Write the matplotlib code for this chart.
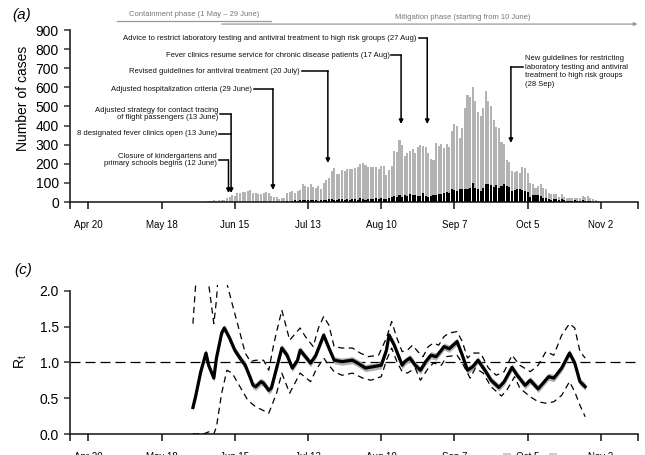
import numpy as np
import pandas as pd
import matplotlib
matplotlib.use("Agg")
import matplotlib.pyplot as plt
import matplotlib.dates as mdates
from matplotlib.patches import Rectangle

plt.rcParams['font.family'] = ['Liberation Sans', 'DejaVu Sans']
plt.rcParams['mathtext.fontset'] = 'custom'
plt.rcParams['mathtext.rm'] = 'Liberation Sans'

# ---------------- daily case counts (1 Jun - 1 Nov 2009) ----------------
days = pd.date_range('2009-06-01', '2009-11-01', freq='D')

total_cases = (
    # June
    [0, 0, 0, 3, 5, 4, 8, 6, 10, 8, 12, 22, 28, 35, 32, 48, 45, 52, 50, 58,
     62, 48, 45, 40, 42, 45, 50, 48, 30, 28]
    # July
    + [25, 18, 20, 22, 45, 50, 55, 48, 60, 65, 92, 85, 80, 92, 78, 75, 84, 66,
       101, 113, 124, 162, 180, 148, 148, 166, 162, 171, 171, 171, 176]
    # August
    + [183, 200, 204, 194, 185, 183, 183, 183, 171, 188, 188, 141, 166, 188,
       267, 262, 323, 297, 241, 257, 265, 276, 258, 287, 300, 293, 288, 258,
       223, 220, 311]
    # September
    + [293, 302, 285, 302, 288, 372, 407, 398, 337, 389, 490, 560, 550, 602,
       530, 470, 450, 490, 580, 530, 500, 430, 395, 385, 315, 305, 218, 210,
       162, 157]
    # October
    + [162, 154, 183, 180, 150, 101, 96, 75, 84, 92, 75, 66, 49, 40, 44, 40,
       26, 40, 26, 19, 19, 23, 23, 19, 19, 31, 26, 31, 23, 14, 9]
    # November
    + [5]
)

subset_cases = (
    [0] * 30
    + [0, 0, 0, 2, 3, 2, 5, 8, 6, 10, 8, 12, 10, 10, 8, 12, 6, 10, 12, 8, 14,
       16, 12, 10, 15, 14, 12, 16, 10, 14, 18]
    + [12, 20, 16, 12, 14, 18, 16, 22, 15, 20, 18, 14, 22, 26, 30, 28, 35, 26,
       38, 32, 40, 35, 37, 31, 31, 45, 31, 26, 31, 35, 37]
    + [40, 44, 49, 54, 49, 70, 61, 58, 66, 66, 70, 66, 75, 101, 72, 66, 58, 72,
       96, 92, 89, 79, 89, 75, 84, 96, 84, 79, 58, 63]
    + [66, 66, 61, 58, 54, 26, 37, 37, 37, 31, 23, 19, 14, 9, 14, 14, 9, 14, 9,
       7, 6, 5, 8, 5, 6, 9, 5, 4, 3, 2, 1]
    + [1]
)

# ---------------- effective reproduction number ----------------
rt_dates = ['2009-05-30', '2009-05-31', '2009-06-02', '2009-06-04', '2009-06-05',
            '2009-06-07', '2009-06-08', '2009-06-10', '2009-06-11', '2009-06-13',
            '2009-06-15', '2009-06-17', '2009-06-19', '2009-06-21', '2009-06-22',
            '2009-06-23', '2009-06-25', '2009-06-26', '2009-06-28', '2009-06-29',
            '2009-07-01', '2009-07-03', '2009-07-05', '2009-07-07', '2009-07-09',
            '2009-07-10', '2009-07-12', '2009-07-14', '2009-07-16', '2009-07-19',
            '2009-07-21', '2009-07-23', '2009-07-26', '2009-07-30', '2009-08-01',
            '2009-08-04', '2009-08-07', '2009-08-10', '2009-08-12', '2009-08-13',
            '2009-08-15', '2009-08-18', '2009-08-19', '2009-08-21', '2009-08-23',
            '2009-08-25', '2009-08-27', '2009-08-29', '2009-08-31', '2009-09-02',
            '2009-09-03', '2009-09-05', '2009-09-08', '2009-09-10', '2009-09-12',
            '2009-09-14', '2009-09-16', '2009-09-19', '2009-09-21', '2009-09-24',
            '2009-09-26', '2009-09-29', '2009-10-01', '2009-10-04', '2009-10-06',
            '2009-10-09', '2009-10-13', '2009-10-15', '2009-10-18', '2009-10-21',
            '2009-10-23', '2009-10-25', '2009-10-27']
rt_mean = [0.37, 0.52, 0.87, 1.13, 0.96, 0.78, 1.06, 1.41, 1.48, 1.34,
           1.17, 1.06, 0.96, 0.78, 0.68, 0.66, 0.73, 0.71, 0.61, 0.64,
           0.92, 1.20, 1.10, 0.92, 1.03, 1.17, 1.08, 0.99, 1.10, 1.38,
           1.20, 1.03, 1.01, 1.03, 0.99, 0.92, 0.94, 0.96, 1.17, 1.38,
           1.24, 0.96, 1.01, 1.06, 0.96, 0.89, 1.01, 1.10, 1.08, 1.17,
           1.22, 1.19, 1.29, 1.10, 0.89, 0.94, 1.03, 0.87, 0.75, 0.65,
           0.73, 0.93, 0.82, 0.68, 0.75, 0.63, 0.80, 0.78, 0.92, 1.13,
           0.99, 0.73, 0.66]

upper_dates = ['2009-05-30', '2009-05-31', '2009-06-01', '2009-06-03', '2009-06-05',
               '2009-06-07', '2009-06-08', '2009-06-09', '2009-06-11', '2009-06-12',
               '2009-06-14', '2009-06-17', '2009-06-19', '2009-06-21', '2009-06-23',
               '2009-06-26', '2009-06-28', '2009-06-30', '2009-07-03', '2009-07-06',
               '2009-07-10', '2009-07-12', '2009-07-15', '2009-07-17', '2009-07-19',
               '2009-07-21', '2009-07-23', '2009-07-26', '2009-07-30', '2009-08-02',
               '2009-08-05', '2009-08-09', '2009-08-12', '2009-08-14', '2009-08-16',
               '2009-08-18', '2009-08-20', '2009-08-22', '2009-08-24', '2009-08-26',
               '2009-08-28', '2009-08-30', '2009-09-01', '2009-09-03', '2009-09-05',
               '2009-09-08', '2009-09-10', '2009-09-12', '2009-09-14', '2009-09-17',
               '2009-09-20', '2009-09-23', '2009-09-26', '2009-09-29', '2009-10-02',
               '2009-10-06', '2009-10-09', '2009-10-12', '2009-10-15', '2009-10-18',
               '2009-10-21', '2009-10-23', '2009-10-25', '2009-10-27']
upper_vals = [1.54, 2.06, 2.5, 2.6, 2.1, 1.54, 1.87, 2.4, 2.6, 2.1,
              1.82, 1.41, 1.13, 1.01, 1.03, 1.03, 0.89, 1.27, 1.73, 1.31,
              1.48, 1.36, 1.22, 1.48, 1.64, 1.52, 1.22, 1.20, 1.20, 1.13,
              1.08, 1.10, 1.34, 1.57, 1.34, 1.15, 1.17, 1.24, 1.15, 1.08,
              1.22, 1.27, 1.24, 1.36, 1.41, 1.43, 1.29, 1.06, 1.13, 1.13,
              0.92, 0.82, 0.87, 1.10, 0.96, 0.87, 0.96, 1.15, 1.10, 1.38,
              1.54, 1.48, 1.15, 1.06]

lower_dates = ['2009-05-30', '2009-06-03', '2009-06-05', '2009-06-07', '2009-06-08',
               '2009-06-10', '2009-06-12', '2009-06-14', '2009-06-17', '2009-06-20',
               '2009-06-23', '2009-06-28', '2009-07-01', '2009-07-03', '2009-07-06',
               '2009-07-10', '2009-07-14', '2009-07-16', '2009-07-19', '2009-07-21',
               '2009-07-23', '2009-07-26', '2009-07-30', '2009-08-03', '2009-08-06',
               '2009-08-10', '2009-08-12', '2009-08-14', '2009-08-16', '2009-08-18',
               '2009-08-20', '2009-08-23', '2009-08-25', '2009-08-28', '2009-08-30',
               '2009-09-02', '2009-09-04', '2009-09-08', '2009-09-10', '2009-09-13',
               '2009-09-15', '2009-09-18', '2009-09-21', '2009-09-25', '2009-09-27',
               '2009-09-30', '2009-10-02', '2009-10-06', '2009-10-09', '2009-10-12',
               '2009-10-15', '2009-10-18', '2009-10-21', '2009-10-23', '2009-10-25',
               '2009-10-27']
lower_vals = [0.0, 0.0, 0.03, 0.0, 0.1, 0.57, 0.89, 0.85, 0.66, 0.47,
              0.38, 0.29, 0.57, 0.85, 0.57, 0.85, 0.73, 0.89, 1.06, 0.96,
              0.87, 0.82, 0.85, 0.78, 0.75, 0.80, 1.03, 1.20, 1.01, 0.87,
              0.85, 0.92, 0.75, 0.92, 0.99, 0.96, 1.08, 1.10, 0.99, 0.78,
              0.92, 0.85, 0.66, 0.53, 0.61, 0.80, 0.64, 0.52, 0.45, 0.43,
              0.45, 0.54, 0.73, 0.59, 0.40, 0.24]

# ---------------- axis ticks ----------------
tick_dates = ['2009-04-20', '2009-05-18', '2009-06-15', '2009-07-13',
              '2009-08-10', '2009-09-07', '2009-10-05', '2009-11-02']
tick_labels = ['Apr 20', 'May 18', 'Jun 15', 'Jul 13',
               'Aug 10', 'Sep 7', 'Oct 5', 'Nov 2']
axis_ends = ['2009-04-13', '2009-11-16']

# ---------------- interventions ----------------
# (event date, label, label y, arrow tip y)
events = [
    ('2009-08-27', 'Advice to restrict laboratory testing and antiviral treatment to high risk groups (27 Aug)', 858, 408),
    ('2009-08-17', 'Fever clinics resume service for chronic disease patients (17 Aug)', 769, 408),
    ('2009-07-20', 'Revised guidelines for antiviral treatment (20 July)', 685, 204),
    ('2009-06-29', 'Adjusted hospitalization criteria (29 June)', 591, 63),
    ('2009-06-13', 'Adjusted strategy for contact tracing\nof flight passengers (13 June)', 460, 47),
    ('2009-06-13', '8 designated fever clinics open (13 June)', 356, None),
    ('2009-06-12', 'Closure of kindergartens and\nprimary schools begins (12 June)', 220, 47),
]
# gap (days) between the end of each label and its connector
label_gaps = [4.0, 4.4, 10.7, 8.0, 5.0, 5.2, 4.5]

late_event = ('2009-09-28', 'New guidelines for restricting\nlaboratory testing and antiviral\n'
              'treatment to high risk groups\n(28 Sep)', 708, 309)

containment = ('2009-05-01', '2009-06-29', 'Containment phase (1 May \u2013 29 June)')
mitigation = ('2009-06-10', '2009-11-16', 'Mitigation phase (starting from 10 June)')

# ---------------- figure ----------------
W, H = 645, 455
fig = plt.figure(figsize=(W / 100, H / 100), dpi=100)

def px_axes(x0, y_top, x1, y_bot):
    return fig.add_axes([x0 / W, (H - y_bot) / H, (x1 - x0) / W, (y_bot - y_top) / H])

ax1 = px_axes(70, 30, 637.5, 202)
ax2 = px_axes(70, 285, 637.5, 434)

d = lambda s: mdates.date2num(pd.to_datetime(s))
xlo, xhi = d(axis_ends[0]), d(axis_ends[1])

# bars
xd = mdates.date2num(days)
ax1.bar(xd, total_cases, width=0.78, color='#b3b3b3', linewidth=0)
ax1.bar(xd, subset_cases, width=0.78, color='black', linewidth=0)
ax1.set_ylim(0, 900)
ax1.set_yticks(range(0, 901, 100))

# Rt panel
rt_x = d(rt_dates)
rt = np.array(rt_mean)
ax2.fill_between(rt_x, rt - 0.05, rt + 0.05, color='#b0b0b0', linewidth=0, zorder=2)
ax2.plot(rt_x, rt, color='black', lw=2.3, solid_joinstyle='round', zorder=3)
ax2.plot(d(upper_dates), upper_vals, color='black', lw=0.9, linestyle=(0, (5, 3.5)), zorder=3)
ax2.plot(d(lower_dates), lower_vals, color='black', lw=0.9, linestyle=(0, (5, 3.5)), zorder=3)
ax2.axhline(1.0, color='black', lw=0.9, linestyle=(0, (8, 4)), zorder=1)
ax2.set_ylim(0, 2.08)
ax2.set_yticks([0.0, 0.5, 1.0, 1.5, 2.0])
ax2.set_yticklabels(['0.0', '0.5', '1.0', '1.5', '2.0'])

for ax in (ax1, ax2):
    ax.set_xlim(xlo, xhi)
    ax.set_xticks(d(tick_dates))
    ax.set_xticklabels(tick_labels)
    ax.set_xticks([xlo, xhi], minor=True)
    for s in ('top', 'right'):
        ax.spines[s].set_visible(False)
    ax.spines['left'].set_color('#333333')
    ax.spines['bottom'].set_color('#111111')
    ax.spines['left'].set_linewidth(1.3)
    ax.spines['bottom'].set_linewidth(1.1)
    ax.tick_params(axis='y', direction='out', length=4, width=1.1, color='#333333',
                   labelsize=10, pad=4)
    ax.tick_params(axis='x', which='both', direction='out', length=5, width=1.1,
                   color='#111111', labelsize=7, pad=8)
    ax.set_facecolor('none')
ax2.spines['left'].set_bounds(0, 2.0)

# intervention annotations
arrowkw = dict(arrowstyle='-|>', color='black', lw=1.1, mutation_scale=6,
               shrinkA=0, shrinkB=0)
for (date, label, y, tip), gap in zip(events, label_gaps):
    ex = d(date) + 0.6
    tx = ex - gap
    ax1.text(tx, y, label, ha='right', va='center', fontsize=5.5, color='#111111',
             linespacing=1.12, clip_on=False)
    ax1.plot([tx + 0.7, ex], [y, y], color='black', lw=1.1, clip_on=False)
    if tip is not None:
        ax1.annotate('', xy=(ex, tip), xytext=(ex, y), arrowprops=arrowkw,
                     annotation_clip=False)

date, label, y, tip = late_event
ex = d(date) + 0.6
ax1.text(ex + 5.3, y + 60, label, ha='left', va='top', fontsize=5.5, color='#111111',
         linespacing=1.3, clip_on=False)
ax1.plot([ex, ex + 4.5], [y, y], color='black', lw=1.1, clip_on=False)
ax1.annotate('', xy=(ex, tip), xytext=(ex, y), arrowprops=arrowkw, annotation_clip=False)

# phase bars
ax1.plot([d(containment[0]), d(containment[1])], [949, 949], color='#9a9a9a', lw=0.9,
         clip_on=False)
ax1.text((d(containment[0]) + d(containment[1])) / 2, 980, containment[2], ha='center',
         va='center', fontsize=5.5, color='#777777', clip_on=False)
ax1.annotate('', xy=(d(mitigation[1]), 931), xytext=(d(mitigation[0]), 931),
             arrowprops=dict(arrowstyle='-|>', color='#9a9a9a', lw=0.9, mutation_scale=5,
                             shrinkA=0, shrinkB=0), annotation_clip=False)
ax1.text(d('2009-09-10'), 968, mitigation[2], ha='center', va='center', fontsize=5.5,
         color='#777777', clip_on=False)

# labels
fig.text(22 / W, 1 - 15 / H, '(a)', fontsize=11, style='italic', ha='center', va='center')
fig.text(23 / W, 1 - 270 / H, '(c)', fontsize=11, style='italic', ha='center', va='center')
fig.text(23 / W, 1 - 98 / H, 'Number of cases', fontsize=10, rotation=90,
         ha='center', va='center')
fig.text(21 / W, 1 - 362 / H, r'R$_{\mathrm{t}}$', fontsize=10, rotation=90,
         ha='center', va='center')

# faint marks beside the lower date labels
for x0 in (503, 549):
    fig.patches.append(Rectangle((x0 / W, 0), 8 / W, 2.5 / H, transform=fig.transFigure,
                                 facecolor='#cbc6e6', edgecolor='none'))

fig.savefig('out.png', dpi=100)
